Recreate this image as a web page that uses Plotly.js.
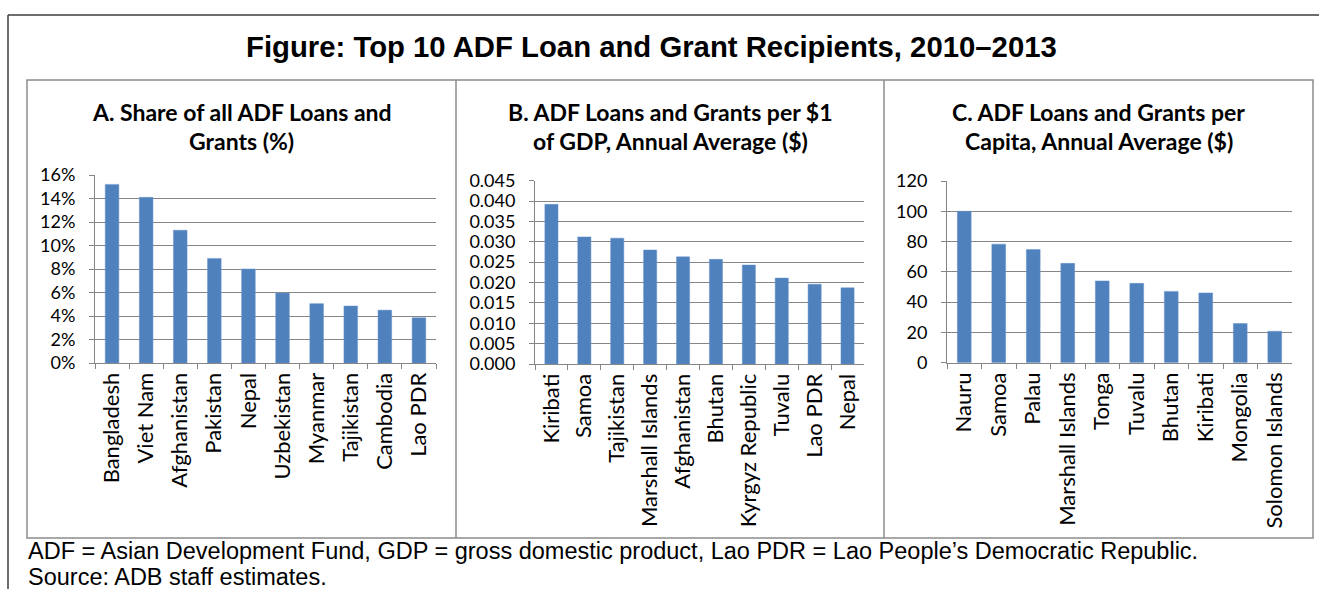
<!DOCTYPE html>
<html>
<head>
<meta charset="utf-8">
<script src="https://cdn.plot.ly/plotly-3.0.1.min.js"></script>
<style>html,body{margin:0;padding:0;background:#fff;}#chart{width:1319px;height:589px;}</style>
</head>
<body>
<div id="chart"></div>
<script>
// ---- data ----
const catsA = ["Bangladesh","Viet Nam","Afghanistan","Pakistan","Nepal","Uzbekistan","Myanmar","Tajikistan","Cambodia","Lao PDR"];
const valsA = [15.2, 14.1, 11.3, 8.9, 8.0, 5.95, 5.05, 4.85, 4.5, 3.85];
const catsB = ["Kiribati","Samoa","Tajikistan","Marshall Islands","Afghanistan","Bhutan","Kyrgyz Republic","Tuvalu","Lao PDR","Nepal"];
const valsB = [0.0392, 0.0312, 0.0309, 0.0280, 0.0263, 0.0257, 0.0243, 0.0211, 0.0196, 0.0187];
const catsC = ["Nauru","Samoa","Palau","Marshall Islands","Tonga","Tuvalu","Bhutan","Kiribati","Mongolia","Solomon Islands"];
const valsC = [100, 78.3, 74.8, 65.6, 54, 52.4, 47.1, 46.1, 25.9, 20.8];

const mainTitle = "Figure: Top 10 ADF Loan and Grant Recipients, 2010–2013";
const subA = ["A. Share of all ADF Loans and", "Grants (%)"];
const subB = ["B. ADF Loans and Grants per $1", "of GDP, Annual Average ($)"];
const subC = ["C. ADF Loans and Grants per", "Capita, Annual Average ($)"];
const note1 = "ADF = Asian Development Fund, GDP = gross domestic product, Lao PDR = Lao People’s Democratic Republic.";
const note2 = "Source: ADB staff estimates.";

// ---- layout helpers ----
const W = 1319, H = 589;
const px = x => x / W;
const py = y => 1 - y / H;
const barColor = "#4f81bd";
const gridColor = "#868686";
const tickFont = {family: "Lato, 'Open Sans', sans-serif", size: 18, color: "#000"};

function bar(x, y, xa, ya) {
  return {type: "bar", x: x, y: y, xaxis: xa, yaxis: ya,
    marker: {color: barColor, line: {color: "#6a95cc", width: 0.5}},
    width: 0.4, hoverinfo: "x+y", showlegend: false};
}
function xax(d) {
  return {domain: d, type: "category", showgrid: false, showline: true, linecolor: gridColor, linewidth: 1,
    ticks: "outside", ticklen: 5, tickcolor: gridColor, tickson: "boundaries",
    tickangle: -90, tickfont: {family: tickFont.family, size: 22, color: "#000"}, fixedrange: true};
}
function yax(d, range, dtick, extra) {
  return Object.assign({domain: d, range: range, dtick: dtick, tick0: 0, showgrid: true, gridcolor: gridColor, gridwidth: 1,
    showline: true, linecolor: gridColor, linewidth: 1, ticks: "outside", ticklen: 5, tickcolor: gridColor,
    ticklabelstandoff: 10, tickfont: tickFont, zeroline: false, fixedrange: true}, extra || {});
}

const data = [
  bar(catsA, valsA, "x", "y"),
  bar(catsB, valsB, "x2", "y2"),
  bar(catsC, valsC, "x3", "y3")
];

const subFont = {family: "Lato, 'Open Sans', sans-serif", size: 23, color: "#000", weight: "bold"};
function sub(lines, cx) {
  return [
    {xref: "paper", yref: "paper", x: px(cx), y: py(112), xanchor: "center", yanchor: "middle", showarrow: false, text: "<b>" + lines[0] + "</b>", font: subFont},
    {xref: "paper", yref: "paper", x: px(cx), y: py(141), xanchor: "center", yanchor: "middle", showarrow: false, text: "<b>" + lines[1] + "</b>", font: subFont}
  ];
}

const noteFont = {family: "'Liberation Sans', Arial, sans-serif", size: 23.5, color: "#000"};
const annotations = [
  {xref: "paper", yref: "paper", x: px(651), y: py(47), xanchor: "center", yanchor: "middle", showarrow: false,
   text: "<b>" + mainTitle + "</b>", font: {family: "'Liberation Sans', Arial, sans-serif", size: 29.3, color: "#000"}},
  ...sub(subA, 241.5), ...sub(subB, 670), ...sub(subC, 1098.5),
  {xref: "paper", yref: "paper", x: px(26), y: py(551), xanchor: "left", yanchor: "middle", showarrow: false,
   text: note1, font: noteFont},
  {xref: "paper", yref: "paper", x: px(26), y: py(576.5), xanchor: "left", yanchor: "middle", showarrow: false,
   text: note2, font: noteFont}
];

const lineGray = {color: "#8c8c8c", width: 1.5};
const shapes = [
  // outer frame (left and top edges visible)
  {type: "line", xref: "paper", yref: "paper", x0: px(8), x1: px(8), y0: py(15), y1: py(600), line: {color: "#3c3c3c", width: 1.5}},
  {type: "line", xref: "paper", yref: "paper", x0: px(8), x1: px(1325), y0: py(15), y1: py(15), line: {color: "#3c3c3c", width: 1.5}},
  // panel boxes
  {type: "rect", xref: "paper", yref: "paper", x0: px(27), x1: px(1313), y0: py(538), y1: py(80), line: lineGray},
  {type: "line", xref: "paper", yref: "paper", x0: px(456), x1: px(456), y0: py(538), y1: py(80), line: lineGray},
  {type: "line", xref: "paper", yref: "paper", x0: px(884), x1: px(884), y0: py(538), y1: py(80), line: lineGray}
];

const layout = {
  width: W, height: H, margin: {l: 0, r: 0, t: 0, b: 0},
  paper_bgcolor: "#fff", plot_bgcolor: "#fff", showlegend: false,
  bargap: 0.6,
  xaxis: xax([px(95), px(436)]),
  yaxis: yax([py(363), py(175)], [0, 16], 2, {ticksuffix: "%", anchor: "x"}),
  xaxis2: Object.assign(xax([px(535), px(864)]), {anchor: "y2"}),
  yaxis2: yax([py(364), py(180.7)], [0, 0.045], 0.005, {tickformat: ".3f", anchor: "x2"}),
  xaxis3: Object.assign(xax([px(947), px(1292)]), {anchor: "y3"}),
  yaxis3: yax([py(362.7), py(181)], [0, 120], 20, {anchor: "x3"}),
  annotations: annotations,
  shapes: shapes
};
layout.xaxis.anchor = "y";

Plotly.newPlot("chart", data, layout, {displayModeBar: false, staticPlot: true});
</script>
</body>
</html>
